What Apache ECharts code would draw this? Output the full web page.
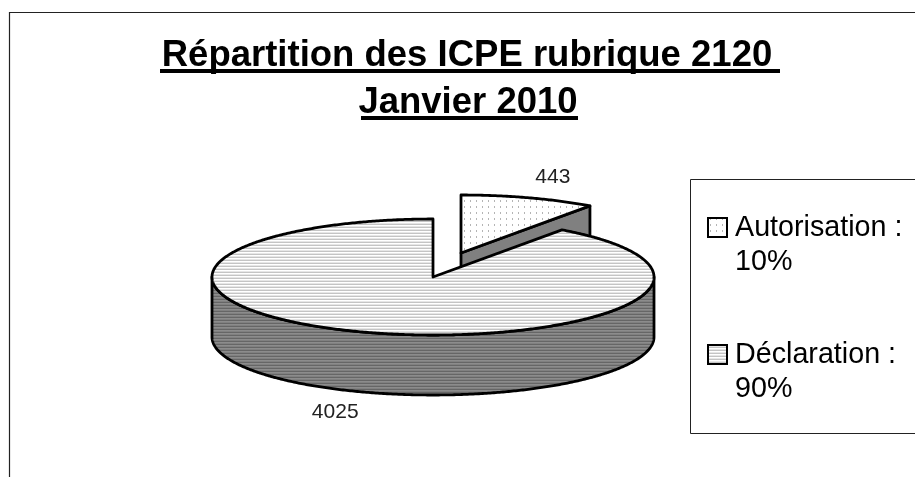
<!DOCTYPE html>
<html>
<head>
<meta charset="utf-8">
<title>Répartition des ICPE rubrique 2120</title>
<script src="https://cdn.jsdelivr.net/npm/echarts@6/dist/echarts.min.js"></script>
<style>
html, body { margin: 0; padding: 0; background: #fff; }
#chart { width: 915px; height: 477px; }
</style>
</head>
<body>
<div id="chart"></div>
<script>
const categories = ['Autorisation', 'Déclaration']
const values = [443, 4025]
const percents = ['10%', '90%']
const titleLines = ['Répartition des ICPE rubrique 2120', 'Janvier 2010']

// pie geometry
const cx = 433, cy = 277, rx = 221, ry = 58, depth = 60
const explode = [[28, -24], [0, 0]]
const font = 'Liberation Sans, Arial, sans-serif'

function linePattern (bands) {
    let c = document.createElement('canvas')
    c.width = 4
    c.height = bands.length
    let ctx = c.getContext('2d')
    bands.forEach((color, i) => {
        ctx.fillStyle = color
        ctx.fillRect(0, i, 4, 1)
    })
    return { image: c, repeat: 'repeat' }
}
function dotPattern () {
    let c = document.createElement('canvas')
    c.width = 6
    c.height = 6
    let ctx = c.getContext('2d')
    ctx.fillStyle = '#fff'
    ctx.fillRect(0, 0, 6, 6)
    ctx.fillStyle = '#b4b4b4'
    ctx.fillRect(2, 2, 1, 2)
    return { image: c, repeat: 'repeat' }
}
const topFills = [dotPattern(), linePattern(['#ffffff', '#e6e6e6', '#c4c4c4'])]
const sideFills = ['#808080', linePattern(['#8c8c8c', '#808080', '#666666'])]
const total = values.reduce((a, b) => a + b, 0)

function pt (ox, oy, deg, f) {
    let a = deg * Math.PI / 180
    return [ox + rx * f * Math.sin(a), oy - ry * f * Math.cos(a)]
}
function arc (ox, oy, from, to) {
    let pts = []
    for (let d = from; d < to; d += 0.5) pts.push(pt(ox, oy, d, 1))
    pts.push(pt(ox, oy, to, 1))
    return pts
}
const lineStyle = { stroke: '#000', lineWidth: 2.8, lineJoin: 'round' }

function renderSlice (params, api) {
    let i = params.dataIndex
    let start = 0
    for (let k = 0; k < i; k++) start += values[k] / total * 360
    let end = start + api.value(0) / total * 360
    let ox = cx + explode[i][0], oy = cy + explode[i][1]
    let children = []
    let wall = (pts, fill) => children.push({
        type: 'polygon', shape: { points: pts }, style: Object.assign({ fill: fill }, lineStyle)
    })
    if (i === 0) {
        // radial cut seen through the gap
        let e = pt(ox, oy, end, 1)
        wall([[ox, oy], e, [e[0], e[1] + depth], [ox, oy + depth]], sideFills[i])
    } else {
        // front half of the rim
        let front = arc(ox, oy, 90, 270)
        wall(front.concat(front.slice().reverse().map(p => [p[0], p[1] + depth])), sideFills[i])
    }
    wall([[ox, oy]].concat(arc(ox, oy, start, end)), topFills[i])
    let mid = (start + end) / 2
    let lp = pt(ox, oy, mid, 1.37)
    children.push({
        type: 'text',
        style: {
            x: lp[0] - (i === 1 ? 5 : 1), y: lp[1] + (i === 1 ? depth : 0),
            text: String(api.value(0)),
            fill: '#222', font: '21px ' + font, align: 'center', verticalAlign: 'middle'
        }
    })
    return { type: 'group', silent: true, children: children }
}

function legendItems () {
    let items = []
    categories.forEach((name, i) => {
        let y = i === 0 ? 214 : 341
        items.push({
            type: 'rect', silent: true,
            shape: { x: 708, y: y + 4, width: 19, height: 19 },
            style: { fill: topFills[i], stroke: '#000', lineWidth: 2 }
        })
        items.push({
            type: 'text', silent: true,
            style: { x: 735, y: y, text: name + ' :', fill: '#000', font: '28.7px ' + font }
        })
        items.push({
            type: 'text', silent: true,
            style: { x: 735, y: y + 33.5, text: percents[i], fill: '#000', font: '28.7px ' + font }
        })
    })
    return items
}

let myChart = echarts.init(document.getElementById('chart'), null, { renderer: 'canvas' })
let option = {
    backgroundColor: '#fff',
    animation: false,
    tooltip: { show: false },
    graphic: [
        // chart frame, runs off the right and bottom of the picture
        { type: 'polyline', silent: true, shape: { points: [[9.5, 477], [9.5, 12.5], [915, 12.5]] }, style: { fill: null, stroke: '#222', lineWidth: 1.2 } },
        // legend frame
        { type: 'polyline', silent: true, shape: { points: [[915, 179.5], [690.5, 179.5], [690.5, 433.5], [915, 433.5]] }, style: { fill: null, stroke: '#222', lineWidth: 1 } },
        // title
        { type: 'text', silent: true, style: { x: 467, y: 37, text: titleLines[0], fill: '#000', font: 'bold 36.5px ' + font, align: 'center' } },
        { type: 'text', silent: true, style: { x: 468, y: 84, text: titleLines[1], fill: '#000', font: 'bold 36.5px ' + font, align: 'center' } },
        { type: 'rect', silent: true, shape: { x: 160, y: 69, width: 620, height: 4 }, style: { fill: '#000' } },
        { type: 'rect', silent: true, shape: { x: 361, y: 116, width: 217, height: 4 }, style: { fill: '#000' } }
    ].concat(legendItems()),
    series: [{
        type: 'custom',
        coordinateSystem: 'none',
        silent: true,
        renderItem: renderSlice,
        data: values.map((v, i) => ({ name: categories[i], value: [v] }))
    }]
}
myChart.setOption(option)
</script>
</body>
</html>
